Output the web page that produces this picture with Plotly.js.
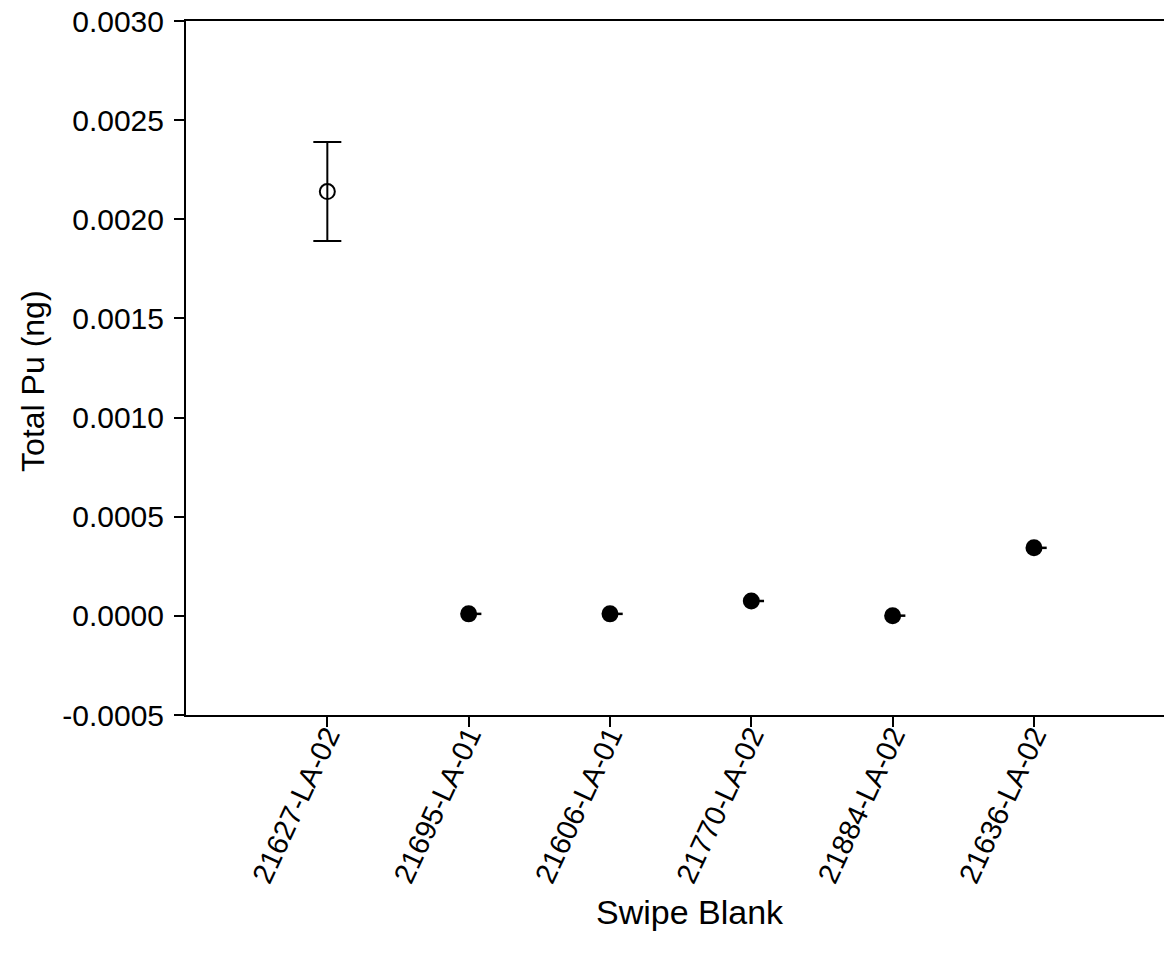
<!DOCTYPE html>
<html>
<head>
<meta charset="utf-8">
<script src="https://cdn.plot.ly/plotly-3.0.1.min.js"></script>
<style>
  html, body { margin: 0; padding: 0; background: #fff; }
  #chart { width: 1164px; height: 958px; }
</style>
</head>
<body>
<div id="chart"></div>
<script>
// Swipe blank samples along the x axis
const sampleIds = ['21627-LA-02', '21695-LA-01', '21606-LA-01', '21770-LA-02', '21884-LA-02', '21636-LA-02'];

// Open marker: sample measured with an uncertainty
const openSample = ['21627-LA-02'];
const openPu = [0.00214];
const openErr = [0.00025];

// Filled markers: remaining swipe blanks
const filledSamples = ['21695-LA-01', '21606-LA-01', '21770-LA-02', '21884-LA-02', '21636-LA-02'];
const filledPu = [0.000010, 0.000010, 0.000075, 0.000001, 0.000343];

// Y axis tick values and their labels
const yTickVals = [-0.0005, 0.0000, 0.0005, 0.0010, 0.0015, 0.0020, 0.0025, 0.0030];
const yTickText = ['-0.0005', '0.0000', '0.0005', '0.0010', '0.0015', '0.0020', '0.0025', '0.0030'];

// Axis titles
const xTitle = 'Swipe Blank';
const yTitle = 'Total Pu (ng)';

const pos = id => sampleIds.indexOf(id);

const traces = [
  {
    type: 'scatter',
    mode: 'markers',
    x: openSample.map(pos),
    y: openPu,
    marker: { symbol: 'circle-open', size: 15, color: '#000', line: { width: 2, color: '#000' } },
    error_y: { type: 'data', array: openErr, visible: true, color: '#000', thickness: 2, width: 14 },
    showlegend: false,
    hoverinfo: 'x+y'
  },
  {
    type: 'scatter',
    mode: 'markers',
    x: filledSamples.map(pos),
    y: filledPu,
    marker: { symbol: 'circle', size: 17, color: '#000' },
    error_x: {
      type: 'data', symmetric: false,
      array: filledSamples.map(() => 0.09),
      arrayminus: filledSamples.map(() => 0),
      visible: true, color: '#000', thickness: 2.5, width: 0
    },
    showlegend: false,
    hoverinfo: 'x+y'
  }
];

const fam = '"Liberation Sans", Arial, sans-serif';

const layout = {
  width: 1164,
  height: 958,
  paper_bgcolor: '#fff',
  plot_bgcolor: '#fff',
  margin: { l: 186, r: 0, t: 21, b: 243 },
  font: { family: fam, color: '#000' },
  xaxis: {
    range: [-1, 5.92],
    tickmode: 'array',
    tickvals: sampleIds.map((_, i) => i),
    ticktext: sampleIds,
    tickangle: -65,
    ticks: 'outside',
    ticklen: 10,
    tickwidth: 2,
    tickcolor: '#000',
    ticklabelstandoff: -20,
    showline: true,
    linewidth: 2,
    linecolor: '#000',
    mirror: true,
    showgrid: false,
    zeroline: false,
    tickfont: { family: fam, size: 29, color: '#000' },
    automargin: false
  },
  yaxis: {
    range: [-0.0005, 0.0030],
    tickmode: 'array',
    tickvals: yTickVals,
    ticktext: yTickText,
    ticks: 'outside',
    ticklen: 10,
    tickwidth: 2,
    tickcolor: '#000',
    ticklabelstandoff: 4,
    showline: true,
    linewidth: 2,
    linecolor: '#000',
    showgrid: false,
    zeroline: false,
    tickfont: { family: fam, size: 30, color: '#000' },
    automargin: false
  },
  annotations: [
    {
      text: xTitle, xref: 'paper', yref: 'paper', x: 0.515, y: 0,
      xanchor: 'center', yanchor: 'middle', yshift: -197, showarrow: false,
      font: { family: fam, size: 34, color: '#000' }
    },
    {
      text: yTitle, xref: 'paper', yref: 'paper', x: 0, y: 0.48,
      xanchor: 'center', yanchor: 'middle', xshift: -153, textangle: -90, showarrow: false,
      font: { family: fam, size: 32, color: '#000' }
    }
  ]
};

Plotly.newPlot('chart', traces, layout, { displayModeBar: false, staticPlot: true });
</script>
</body>
</html>
